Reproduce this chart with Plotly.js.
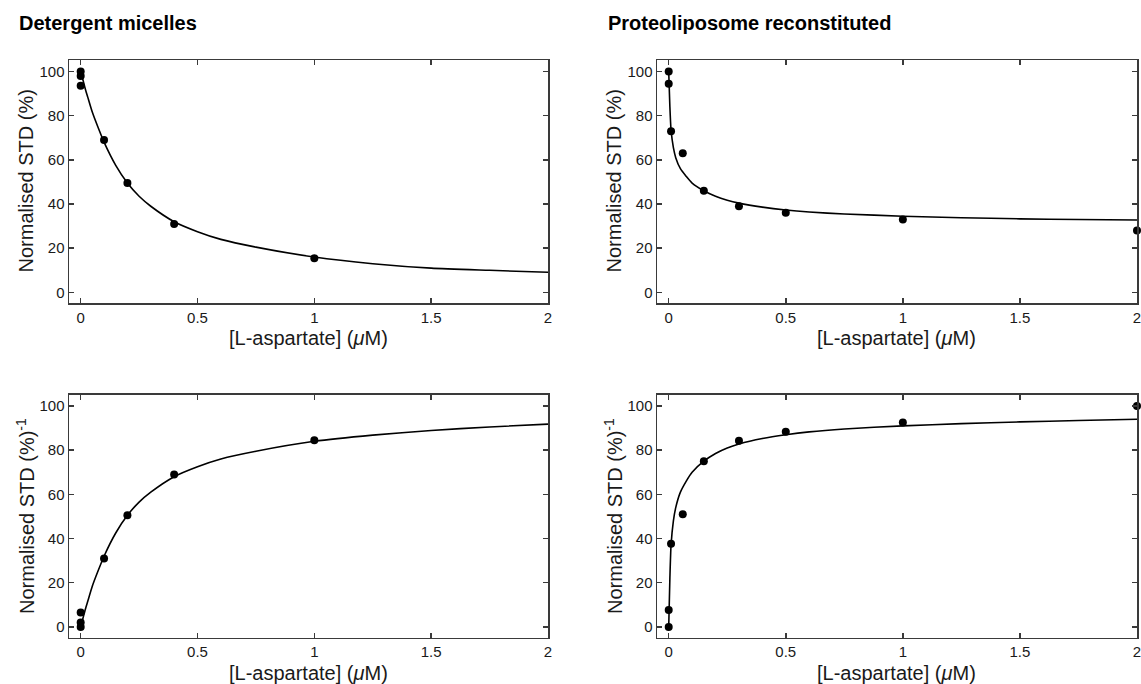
<!DOCTYPE html>
<html>
<head>
<meta charset="utf-8">
<script src="https://cdn.plot.ly/plotly-3.0.1.min.js"></script>
<style>
  html, body { margin: 0; padding: 0; background: #fff; }
  #chart { width: 1141px; height: 684px; }
</style>
</head>
<body>
<div id="chart"></div>
<script>
// ---------- data ----------
const xTickVals = [0, 0.5, 1, 1.5, 2];
const xTickText = ['0', '0.5', '1', '1.5', '2'];
const yTickVals = [0, 20, 40, 60, 80, 100];
const yTickText = ['0', '20', '40', '60', '80', '100'];

// Detergent micelles: measured points
const detX = [0, 0, 0, 0.1, 0.2, 0.4, 1.0];
const detStd = [100, 98, 93.5, 69, 49.5, 31, 15.5];
const detInv = [0, 2, 6.5, 31, 50.5, 69, 84.5];

// Proteoliposome reconstituted: measured points
const proX = [0, 0, 0.01, 0.06, 0.15, 0.3, 0.5, 1.0, 2.0];
const proStd = [100, 94.5, 73, 63, 46, 39, 36, 33, 28];
const proInv = [0, 7.6, 37.6, 51, 75, 84.3, 88.3, 92.5, 100];

// Fitted curves
const fitX = [0, 0.005, 0.01, 0.02, 0.03, 0.05, 0.075, 0.1, 0.15, 0.2, 0.25, 0.3, 0.4, 0.5, 0.6, 0.75, 1.0, 1.25, 1.5, 1.75, 2.0];
const detStdFit = [100, 98, 96, 92, 88.5, 81.5, 74.5, 68, 57.5, 49.5, 43.5, 39, 32, 27.5, 24, 20.5, 16, 13, 11, 10, 9.1];
const detInvFit = [0, 2, 4, 8, 11.5, 18.5, 25.5, 32, 42.5, 50.5, 56.5, 61, 68, 72.5, 76, 79.5, 84, 86.8, 88.9, 90.5, 91.8];
const proStdFit = [100, 84, 73.5, 65.5, 61, 56, 52.5, 49.5, 46, 43.5, 41.7, 40.4, 38.6, 37.3, 36.4, 35.5, 34.5, 33.8, 33.3, 33.0, 32.8];
const proInvFit = [0, 22, 37, 48, 54, 61, 66, 70, 75, 78.5, 81, 82.8, 85.3, 87, 88.3, 89.6, 91, 92, 92.8, 93.4, 94];

const panelTitles = ['Detergent micelles', 'Proteoliposome reconstituted'];
const yTitleStd = 'Normalised STD (%)';
const yTitleInv = 'Normalised STD (%)<sup>-1</sup>';
const xTitle = '[L-aspartate] (<i>μ</i>M)';

// ---------- drawing ----------
const W = 1141, H = 684;
const FONT = 'Liberation Sans, Arial, Helvetica, sans-serif';
const TXT = '#1a1a1a';
const FRAME = '#3a3a3a';

// panel pixel boxes [left, right, top, bottom]
const boxes = {
  tl: [69, 548, 60, 303],
  tr: [657, 1137, 60, 303],
  bl: [69, 548, 394.5, 637.5],
  br: [657, 1137, 394.5, 637.5]
};
const px = v => v / W;
const py = v => 1 - v / H;

function ptsTrace(x, y, xa, ya) {
  return { x: x, y: y, xaxis: xa, yaxis: ya, type: 'scatter', mode: 'markers',
    marker: { color: '#000', size: 8 }, cliponaxis: false, showlegend: false, hoverinfo: 'x+y' };
}
function fitTrace(x, y, xa, ya) {
  return { x: x, y: y, xaxis: xa, yaxis: ya, type: 'scatter', mode: 'lines',
    line: { color: '#000', width: 1.6, shape: 'spline', smoothing: 0.6 }, showlegend: false, hoverinfo: 'skip' };
}

const traces = [
  fitTrace(fitX, detStdFit, 'x', 'y'),
  ptsTrace(detX, detStd, 'x', 'y'),
  fitTrace(fitX, proStdFit, 'x2', 'y2'),
  ptsTrace(proX, proStd, 'x2', 'y2'),
  fitTrace(fitX, detInvFit, 'x3', 'y3'),
  ptsTrace(detX, detInv, 'x3', 'y3'),
  fitTrace(fitX, proInvFit, 'x4', 'y4'),
  ptsTrace(proX, proInv, 'x4', 'y4')
];

function xAxis(b, anchor) {
  return { domain: [px(b[0]), px(b[1])], anchor: anchor, range: [-0.05, 2.0],
    tickmode: 'array', tickvals: xTickVals, ticktext: xTickText,
    ticks: 'inside', ticklen: 5, tickwidth: 1.5, tickcolor: FRAME,
    showline: true, linecolor: FRAME, linewidth: 1.5, mirror: 'ticks',
    showgrid: false, zeroline: false, ticklabeloverflow: 'allow',
    tickfont: { family: FONT, size: 15, color: TXT } };
}
function yAxis(b, anchor) {
  return { domain: [py(b[3]), py(b[2])], anchor: anchor, range: [-4.8, 105.2],
    tickmode: 'array', tickvals: yTickVals, ticktext: yTickText,
    ticks: 'inside', ticklen: 5, tickwidth: 1.5, tickcolor: FRAME,
    showline: true, linecolor: FRAME, linewidth: 1.5, mirror: 'ticks',
    showgrid: false, zeroline: false, ticklabeloverflow: 'allow',
    tickfont: { family: FONT, size: 15, color: TXT } };
}

const ann = [];
function addText(text, x, y, opts) {
  ann.push(Object.assign({ text: text, xref: 'paper', yref: 'paper', x: px(x), y: py(y),
    showarrow: false, font: { family: FONT, size: 20, color: TXT } }, opts));
}
// panel titles
addText('<b>' + panelTitles[0] + '</b>', 17, 22.5, { xanchor: 'left', yanchor: 'middle', font: { family: FONT, size: 20, color: '#000' } });
addText('<b>' + panelTitles[1] + '</b>', 606, 22.5, { xanchor: 'left', yanchor: 'middle', font: { family: FONT, size: 20, color: '#000' } });
// axis titles
[['tl', yTitleStd], ['tr', yTitleStd], ['bl', yTitleInv], ['br', yTitleInv]].forEach(([k, t]) => {
  const b = boxes[k];
  addText(t, b[0] - 44, (b[2] + b[3]) / 2, { textangle: -90, xanchor: 'center', yanchor: 'middle' });
  addText(xTitle, (b[0] + b[1]) / 2, b[3] + 35, { xanchor: 'center', yanchor: 'middle' });
});

const layout = {
  width: W, height: H,
  margin: { l: 0, r: 0, t: 0, b: 0 },
  paper_bgcolor: '#fff', plot_bgcolor: '#fff',
  showlegend: false,
  xaxis: xAxis(boxes.tl, 'y'),
  yaxis: yAxis(boxes.tl, 'x'),
  xaxis2: xAxis(boxes.tr, 'y2'),
  yaxis2: yAxis(boxes.tr, 'x2'),
  xaxis3: xAxis(boxes.bl, 'y3'),
  yaxis3: yAxis(boxes.bl, 'x3'),
  xaxis4: xAxis(boxes.br, 'y4'),
  yaxis4: yAxis(boxes.br, 'x4'),
  annotations: ann
};

Plotly.newPlot('chart', traces, layout, { displayModeBar: false, staticPlot: true });
</script>
</body>
</html>
